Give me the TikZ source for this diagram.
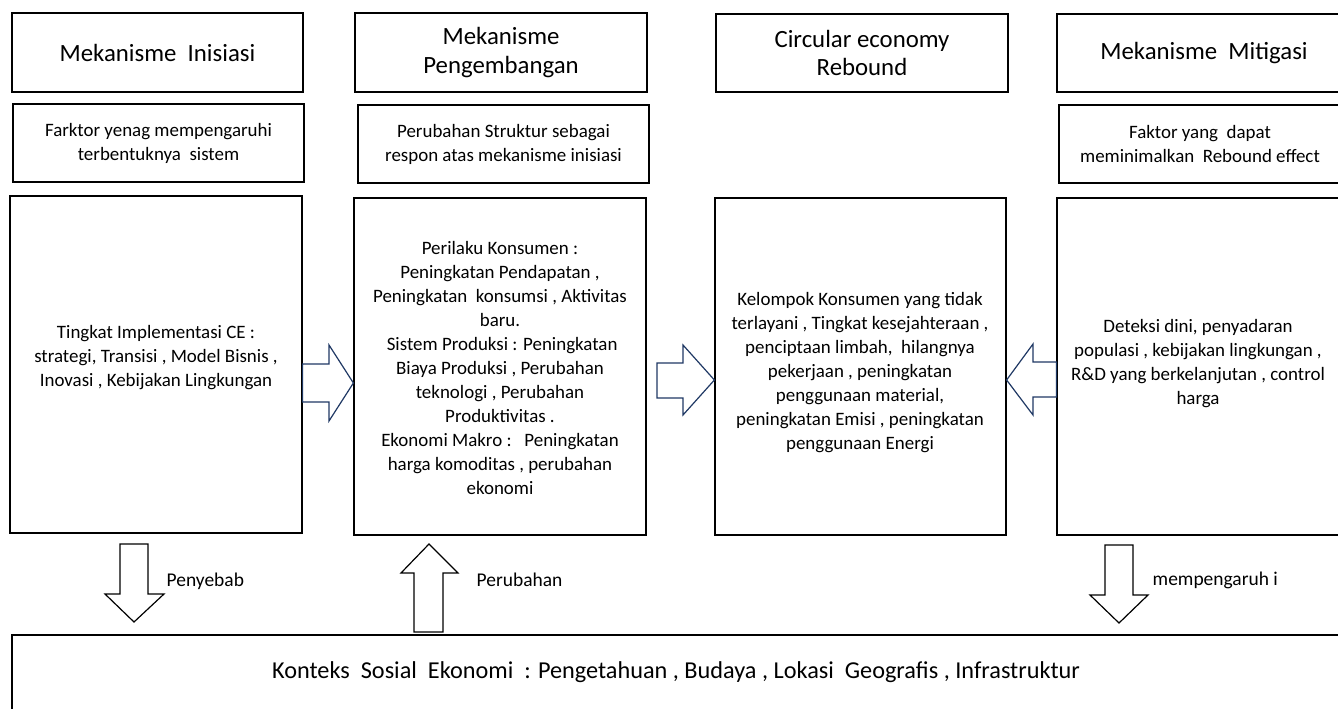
\documentclass[tikz,border=0pt]{standalone}
\usepackage{fontspec}
\setmainfont{Carlito}
\usetikzlibrary{fit}
\definecolor{navy}{RGB}{31,56,100}
\tikzset{
  box/.style={draw=black, line width=0.9pt, inner sep=0pt, align=center},
  titletext/.style={font=\fontsize{18.6}{21.5}\selectfont, align=center},
  subtext/.style={font=\fontsize{14.2}{18}\selectfont, align=center},
  maintext/.style={font=\fontsize{14.2}{18}\selectfont, align=center},
  bigtext/.style={font=\fontsize{18.2}{21}\selectfont},
  lbl/.style={font=\fontsize{14.6}{17}\selectfont, anchor=west},
  harrow/.style={draw=navy, line width=0.9pt, fill=white, line join=miter},
  varrow/.style={draw=black, line width=0.9pt, fill=white, line join=miter}
}
\begin{document}
\begin{tikzpicture}[x=0.75pt,y=-0.75pt]
\useasboundingbox (0,0) rectangle (1338,709);
\clip (0,0) rectangle (1338,709);
% title boxes
\node[box, fit={(12,13) (303,92)}] (t1) {};
\node[titletext] at (t1.center) {Mekanisme\ \ Inisiasi};
\node[box, fit={(355,13) (647,92)}] (t2) {};
\node[titletext] at (t2.center) {Mekanisme\\Pengembangan};
\node[box, fit={(716,14) (1008,92)}] (t3) {};
\node[titletext] at (t3.center) {Circular economy\\Rebound};
\node[box, fit={(1057,14) (1350,92)}] (t4) {};
\node[titletext] at (1204,53) {Mekanisme\ \ Mitigasi};
% sub boxes
\node[box, fit={(13,104) (304,182)}] (s1) {};
\node[subtext] at (s1.center) {Farktor yenag mempengaruhi\\terbentuknya\ \ sistem};
\node[box, fit={(358,105) (649,183)}] (s2) {};
\node[subtext] at (s2.center) {Perubahan Struktur sebagai\\respon atas mekanisme inisiasi};
\node[box, fit={(1059,105) (1350,183)}] (s4) {};
\node[subtext] at (1200,144) {Faktor yang\ \ dapat\\meminimalkan\ \ Rebound effect};
% main boxes
\node[box, fit={(10,196) (302,533)}] (m1) {};
\node[maintext] (m1t) at (156,358) {Tingkat Implementasi CE :\\strategi, Transisi , Model Bisnis ,\\Inovasi , Kebijakan Lingkungan};
\node[box, fit={(354,198) (646,535)}] (m2) {};
\node[maintext] (m2t) at (500,368) {Perilaku Konsumen :\\Peningkatan Pendapatan ,\\Peningkatan\ \ konsumsi , Aktivitas\\baru.\\\ Sistem Produksi : Peningkatan\\Biaya Produksi , Perubahan\\teknologi , Perubahan\\Produktivitas .\\Ekonomi Makro :\ \ \ Peningkatan\\harga komoditas , perubahan\\ekonomi};
\node[box, fit={(715,198) (1006,535)}] (m3) {};
\node[maintext] (m3t) at (860,373) {Kelompok Konsumen yang tidak\\terlayani , Tingkat kesejahteraan ,\\penciptaan limbah,\ \ hilangnya\\pekerjaan , peningkatan\\penggunaan material,\\peningkatan Emisi , peningkatan\\penggunaan Energi};
\node[box, fit={(1057,198) (1350,535)}] (m4) {};
\node[maintext] (m4t) at (1198,364) {Deteksi dini, penyadaran\\populasi , kebijakan lingkungan ,\\R\&D yang berkelanjutan , control\\harga};
% bottom box
\node[box, fit={(12,635) (1350,730)}] (ctx) {};
\node[bigtext] (ctxt) at (676,672) {Konteks\ \ Sosial\ \ Ekonomi\ \ : Pengetahuan , Budaya , Lokasi\ \ Geografis , Infrastruktur};
% horizontal block arrows
\draw[harrow] (m1.east |- 0,364) -- (329,364) -- (329,345) -- (m2.west |- 0,383) -- (329,421) -- (329,402) -- (m1.east |- 0,402) -- cycle;
\draw[harrow] (657,363) -- (683,363) -- (683,345) -- (m3.west |- 0,380) -- (683,415) -- (683,398) -- (657,398) -- cycle;
\draw[harrow] (m4.west |- 0,362) -- (1033,362) -- (1033,344) -- (m3.east |- 0,380) -- (1033,415) -- (1033,397) -- (m4.west |- 0,397) -- cycle;
% vertical block arrows
\draw[varrow] (120,544) -- (148,544) -- (148,594) -- (164,594) -- (134,622) -- (105,594) -- (120,594) -- cycle;
\draw[varrow] (414,632) -- (414,573) -- (401,573) -- (429,544) -- (458,573) -- (443,573) -- (443,632) -- cycle;
\draw[varrow] (1105,545) -- (1133,545) -- (1133,595) -- (1148,595) -- (1119,623) -- (1090,595) -- (1105,595) -- cycle;
% labels
\node[lbl] (l1) at (162,581) {Penyebab};
\node[lbl] (l2) at (472,580) {Perubahan};
\node[lbl] (l3) at (1148,580) {mempengaruh i};
\end{tikzpicture}
\end{document}
